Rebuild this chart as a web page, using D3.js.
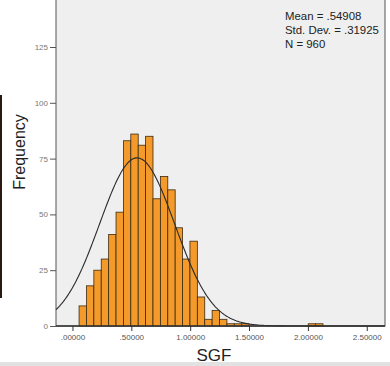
<!DOCTYPE html>
<html>
<head>
<meta charset="utf-8">
<script src="https://cdn.jsdelivr.net/npm/d3@7"></script>
<style>
  body { margin: 0; background: #fff; }
  svg { display: block; font-family: "Liberation Sans", Arial, sans-serif; }
</style>
</head>
<body>
<div id="container"></div>
<script>
/* CONSTANTS AND GLOBALS */
const width = 390,
  height = 366;

// histogram of SGF (bins)
const binStart = 0.056;
const binWidth = 0.0628;
const counts = [9, 18, 25, 30, 41, 51, 83, 86, 81, 85, 57, 67, 61, 44, 30, 38, 13, 3, 7, 3,
  1, 1, 1, 0, 0, 0, 0, 0, 0, 0, 0, 1, 1];

// summary shown in the corner
const mean = 0.54908;
const stdDev = 0.31925;
const n = 960;
const statLines = ["Mean = .54908", "Std. Dev. = .31925", "N = 960"];

// ticks
const xTicks = [0, 0.5, 1, 1.5, 2, 2.5];
const xTickLabels = [".00000", ".50000", "1.00000", "1.50000", "2.00000", "2.50000"];
const yTicks = [0, 25, 50, 75, 100, 125];

const bins = counts.map((c, i) => ({
  x0: binStart + i * binWidth,
  x1: binStart + (i + 1) * binWidth,
  count: c
}));

/* SCALES */
const xScale = d3.scaleLinear()
  .domain([-0.14, 2.655])
  .range([56, 385]);

const yScale = d3.scaleLinear()
  .domain([0, 150])
  .range([326, 326 - 150 * 2.232]);

const svg = d3.select("#container")
  .append("svg")
  .attr("width", width)
  .attr("height", height);

// plot background
svg.append("rect")
  .attr("x", xScale.range()[0])
  .attr("y", -20)
  .attr("width", xScale.range()[1] - xScale.range()[0])
  .attr("height", yScale(0) + 20)
  .attr("fill", "#efefef")
  .attr("stroke", "#555")
  .attr("stroke-width", 1);

// bars
svg.selectAll(".bar")
  .data(bins.filter(d => d.count > 0))
  .join("rect")
  .attr("class", "bar")
  .attr("x", d => xScale(d.x0))
  .attr("y", d => yScale(d.count))
  .attr("width", d => xScale(d.x1) - xScale(d.x0))
  .attr("height", d => yScale(0) - yScale(d.count))
  .attr("fill", "#f39a2b")
  .attr("stroke", "#3b2a12")
  .attr("stroke-width", 0.8);

// fitted normal curve
const normal = x => n * binWidth / (stdDev * Math.sqrt(2 * Math.PI)) *
  Math.exp(-0.5 * Math.pow((x - mean) / stdDev, 2));
const curveX = d3.range(xScale.domain()[0], xScale.domain()[1], 0.01);
const lineGen = d3.line()
  .x(d => xScale(d))
  .y(d => yScale(normal(d)));

svg.append("path")
  .datum(curveX)
  .attr("d", lineGen)
  .attr("fill", "none")
  .attr("stroke", "#2a2a2a")
  .attr("stroke-width", 1.1);

// x baseline
svg.append("line")
  .attr("x1", 56).attr("x2", 385)
  .attr("y1", yScale(0)).attr("y2", yScale(0))
  .attr("stroke", "#333")
  .attr("stroke-width", 1.3);

// + AXES
const xAxis = d3.axisBottom(xScale)
  .tickValues(xTicks)
  .tickFormat((d, i) => xTickLabels[i])
  .tickSize(5)
  .tickPadding(3);

const xAxisGroup = svg.append("g")
  .attr("transform", `translate(0, ${yScale(0)})`)
  .call(xAxis);
xAxisGroup.select(".domain").remove();
xAxisGroup.selectAll("line").attr("stroke", "#333");
xAxisGroup.selectAll("text")
  .attr("fill", "#555")
  .attr("font-size", 8)
  .attr("font-family", "'Liberation Sans', Arial, sans-serif");

const yAxis = d3.axisLeft(yScale)
  .tickValues(yTicks)
  .tickSize(6)
  .tickPadding(2);

const yAxisGroup = svg.append("g")
  .attr("transform", `translate(56, 0)`)
  .call(yAxis);
yAxisGroup.select(".domain").remove();
yAxisGroup.selectAll("line").attr("stroke", "#555");
yAxisGroup.selectAll("text")
  .attr("fill", "#777")
  .attr("font-size", 8)
  .attr("font-family", "'Liberation Sans', Arial, sans-serif");

// axis titles
svg.append("text")
  .attr("transform", "translate(25, 152) rotate(-90)")
  .attr("text-anchor", "middle")
  .attr("font-size", 16)
  .attr("fill", "#222")
  .text("Frequency");

svg.append("text")
  .attr("x", 214)
  .attr("y", 361)
  .attr("text-anchor", "middle")
  .attr("font-size", 17)
  .attr("fill", "#222")
  .text("SGF");

// stats box text
svg.selectAll(".stat")
  .data(statLines)
  .join("text")
  .attr("class", "stat")
  .attr("x", 285)
  .attr("y", (d, i) => 20 + i * 13.8)
  .attr("font-size", 11.4)
  .attr("fill", "#222")
  .text(d => d);

// frame pieces at the picture edges
svg.append("line")
  .attr("x1", 1).attr("x2", 1)
  .attr("y1", 95).attr("y2", 298)
  .attr("stroke", "#2a1a10")
  .attr("stroke-width", 2);

svg.append("rect")
  .attr("x", 0).attr("y", 362)
  .attr("width", width).attr("height", 4)
  .attr("fill", "#e2e2e2");
</script>
</body>
</html>
